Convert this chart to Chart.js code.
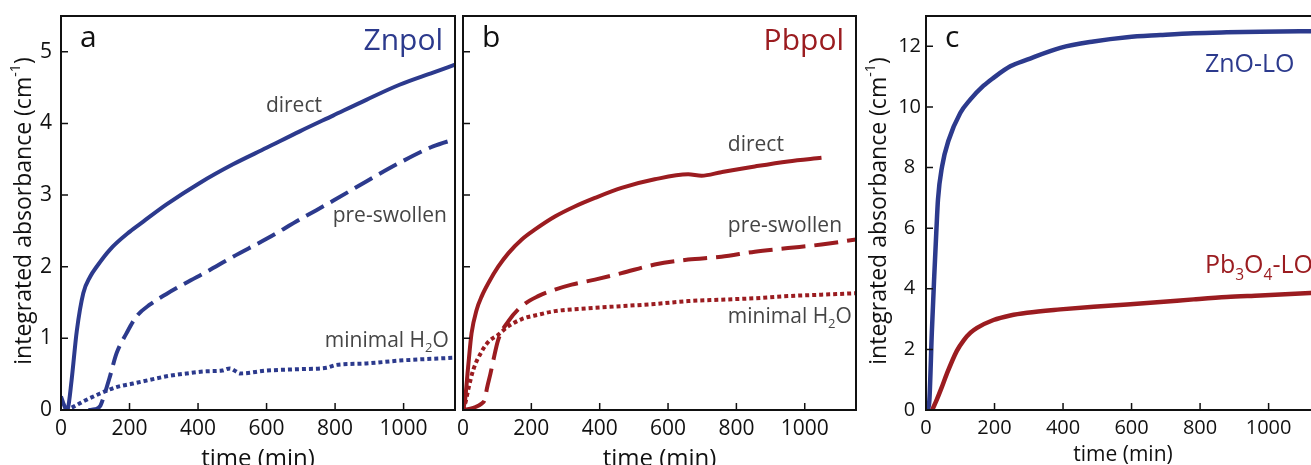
<!DOCTYPE html>
<html>
<head>
<meta charset="utf-8">
<script src="https://cdn.jsdelivr.net/npm/chart.js@4.4.1/dist/chart.umd.min.js"></script>
<style>
  html, body { margin: 0; padding: 0; background: #fff; overflow: hidden; }
  body { width: 1311px; height: 465px; position: relative; }
  .panel { position: absolute; top: 0; height: 480px; }
  #pa { left: 0; width: 460px; }
  #pb { left: 456px; width: 404px; }
  #pc { left: 860px; width: 462px; }
</style>
</head>
<body>
<div class="panel" id="pa"><canvas id="chartA"></canvas></div>
<div class="panel" id="pb"><canvas id="chartB"></canvas></div>
<div class="panel" id="pc"><canvas id="chartC"></canvas></div>
<script>
const FONT = "'Open Sans', 'Noto Sans', sans-serif";
const BLUE = '#2c3a8d';
const RED = '#9b1c20';
const GREY = '#454545';

// tick labels
const timeLabels = [0, 200, 400, 600, 800, 1000];

// panel a - Znpol
const znDirectT = [0, 8, 16, 20, 31, 46, 65, 85, 104, 143, 201, 240, 308, 405, 502, 600, 697, 794, 891, 988, 1086, 1150];
const znDirectV = [0.19, 0.08, 0, 0.02, 0.42, 1.1, 1.63, 1.86, 2.0, 2.24, 2.49, 2.63, 2.87, 3.17, 3.43, 3.66, 3.89, 4.11, 4.33, 4.54, 4.71, 4.82];
const znSwollenT = [80, 100, 115, 123, 143, 162, 191, 221, 259, 308, 367, 425, 502, 600, 697, 794, 891, 988, 1086, 1150];
const znSwollenV = [0, 0.01, 0.06, 0.16, 0.47, 0.79, 1.07, 1.31, 1.47, 1.62, 1.78, 1.93, 2.14, 2.39, 2.66, 2.92, 3.19, 3.45, 3.68, 3.78];
const znMinimalT = [12, 30, 46, 65, 114, 162, 211, 259, 308, 367, 425, 470, 493, 510, 522, 600, 697, 775, 804, 891, 988, 1150];
const znMinimalV = [0, 0.03, 0.07, 0.12, 0.23, 0.32, 0.37, 0.42, 0.47, 0.51, 0.54, 0.55, 0.58, 0.54, 0.51, 0.55, 0.57, 0.59, 0.63, 0.65, 0.69, 0.73];

// panel b - Pbpol
const pbDirectT = [0, 6, 15, 25, 40, 55, 74, 103, 133, 172, 211, 269, 327, 386, 464, 561, 659, 698, 756, 854, 951, 1049];
const pbDirectV = [0, 0.14, 0.6, 1.07, 1.4, 1.59, 1.77, 2.0, 2.19, 2.38, 2.52, 2.70, 2.84, 2.96, 3.10, 3.22, 3.29, 3.27, 3.32, 3.40, 3.47, 3.52];
const pbSwollenT = [0, 30, 55, 64, 70, 80, 89, 103, 133, 172, 220, 269, 318, 386, 464, 561, 659, 756, 854, 951, 1049, 1150];
const pbSwollenV = [0, 0.03, 0.09, 0.15, 0.3, 0.5, 0.7, 0.98, 1.24, 1.45, 1.59, 1.68, 1.75, 1.82, 1.91, 2.03, 2.10, 2.14, 2.21, 2.26, 2.31, 2.38];
const pbMinimalT = [0, 8, 16, 30, 55, 74, 103, 133, 172, 220, 269, 366, 464, 561, 659, 756, 854, 951, 1049, 1150];
const pbMinimalV = [0, 0.12, 0.3, 0.56, 0.82, 0.95, 1.05, 1.17, 1.27, 1.33, 1.38, 1.42, 1.45, 1.48, 1.52, 1.54, 1.56, 1.59, 1.61, 1.63];

// panel c - LO references
const znoT = [5, 10, 17, 24, 30, 35, 47, 66, 100, 129, 168, 197, 246, 295, 392, 489, 587, 684, 781, 878, 976, 1150];
const znoV = [0, 0.35, 2.55, 4.4, 5.85, 6.95, 8.04, 8.9, 9.8, 10.24, 10.7, 10.96, 11.34, 11.56, 11.95, 12.16, 12.3, 12.37, 12.43, 12.46, 12.48, 12.5];
const pboT = [18, 30, 45, 61, 90, 110, 130, 149, 197, 246, 295, 392, 489, 587, 684, 781, 878, 976, 1150];
const pboV = [0, 0.3, 0.72, 1.2, 1.95, 2.3, 2.55, 2.71, 2.97, 3.12, 3.21, 3.32, 3.41, 3.48, 3.56, 3.65, 3.73, 3.78, 3.88];

const zip = (t, v) => t.map((x, i) => ({ x: x, y: v[i] }));

function series(t, v, color, dash, width) {
  return {
    data: zip(t, v),
    borderColor: color,
    borderWidth: width || 4,
    borderDash: dash || [],
    pointRadius: 0,
    cubicInterpolationMode: 'monotone',
    fill: false
  };
}

// draw text made of pieces, some of them subscript / superscript
function richText(ctx, parts, x, y, size, align) {
  const widths = parts.map(p => {
    ctx.font = (p.sub || p.sup ? size * 0.62 : size) + 'px ' + FONT;
    return ctx.measureText(p.t).width;
  });
  const total = widths.reduce((a, b) => a + b, 0);
  let cx = x;
  if (align === 'center') cx = x - total / 2;
  if (align === 'right') cx = x - total;
  parts.forEach((p, i) => {
    ctx.font = (p.sub || p.sup ? size * 0.62 : size) + 'px ' + FONT;
    let dy = 0;
    if (p.sub) dy = size * 0.28;
    if (p.sup) dy = -size * 0.36;
    ctx.fillText(p.t, cx, y + dy);
    cx += widths[i];
  });
}

const yTitle = [{ t: 'integrated absorbance (cm' }, { t: '-1', sup: true }, { t: ')' }];

const panelDeco = {
  id: 'panelDeco',
  afterDraw(chart, args, o) {
    const { ctx, chartArea: a, scales: { x, y } } = chart;
    ctx.save();
    // inward ticks
    ctx.strokeStyle = '#111';
    ctx.lineWidth = 1.5;
    ctx.beginPath();
    x.ticks.forEach(t => {
      const px = x.getPixelForValue(t.value);
      const len = timeLabels.includes(t.value) ? 7 : 4;
      ctx.moveTo(px, a.bottom);
      ctx.lineTo(px, a.bottom - len);
    });
    y.ticks.forEach(t => {
      if (t.value % o.yStep !== 0) return;
      const py = y.getPixelForValue(t.value);
      ctx.moveTo(a.left, py);
      ctx.lineTo(a.left + 7, py);
    });
    ctx.stroke();
    // frame
    ctx.lineWidth = 2;
    ctx.strokeRect(a.left, a.top, a.right - a.left, a.bottom - a.top);

    ctx.textBaseline = 'alphabetic';
    ctx.textAlign = 'left';
    // panel letter
    ctx.fillStyle = '#111';
    ctx.font = '30px ' + FONT;
    ctx.fillText(o.letter, a.left + 19, a.top + 31);
    // panel title
    if (o.title) {
      ctx.fillStyle = o.titleColor;
      ctx.font = '30px ' + FONT;
      ctx.textAlign = 'right';
      ctx.fillText(o.title, a.right - 12, a.top + 34);
      ctx.textAlign = 'left';
    }
    // curve labels
    (o.notes || []).forEach(n => {
      ctx.fillStyle = n.color || GREY;
      richText(ctx, n.parts, x.getPixelForValue(n.x), y.getPixelForValue(n.y), n.size || 21, 'left');
    });
    // y title
    if (o.yTitleX) {
      ctx.fillStyle = '#111';
      ctx.textBaseline = 'middle';
      ctx.translate(o.yTitleX, (a.top + a.bottom) / 2 - 2);
      ctx.rotate(-Math.PI / 2);
      richText(ctx, yTitle, 0, 0, 23, 'center');
    }
    ctx.restore();
  }
};

function makeChart(id, cfg) {
  return new Chart(document.getElementById(id), {
    type: 'line',
    data: { datasets: cfg.datasets },
    options: {
      responsive: true,
      maintainAspectRatio: false,
      animation: false,
      events: [],
      layout: { padding: { top: 16, right: cfg.padRight, left: 0, bottom: 0 } },
      plugins: { legend: { display: false }, tooltip: { enabled: false }, panelDeco: cfg.deco },
      scales: {
        x: {
          type: 'linear', min: 0, max: 1150,
          grid: { display: false, drawTicks: false },
          border: { display: false },
          ticks: {
            stepSize: 50, autoSkip: false, maxRotation: 0, padding: 6,
            color: '#111', font: { family: FONT, size: cfg.tickSize },
            callback: v => timeLabels.includes(v) ? String(v) : null
          },
          title: {
            display: true, text: 'time (min)', color: '#111',
            font: { family: FONT, size: cfg.xTitleSize, lineHeight: 1.2 },
            padding: { top: 0, bottom: cfg.xTitlePad }
          },
          afterFit: s => { s.height = 70; s.paddingLeft = 0; s.paddingRight = 0; }
        },
        y: {
          type: 'linear', min: 0, max: cfg.yMax,
          grid: { display: false, drawTicks: false },
          border: { display: false },
          ticks: {
            display: cfg.yLabels, stepSize: cfg.yStep, padding: cfg.yPad, crossAlign: cfg.crossAlign || 'near',
            color: '#111', font: { family: FONT, size: cfg.tickSize },
            callback: v => v % cfg.yStep === 0 ? String(v) : null
          },
          afterFit: s => { s.width = cfg.yWidth; s.paddingTop = 0; s.paddingBottom = 0; }
        }
      }
    },
    plugins: [panelDeco]
  });
}

makeChart('chartA', {
  datasets: [
    series(znDirectT, znDirectV, BLUE),
    series(znSwollenT, znSwollenV, BLUE, [20, 8]),
    series(znMinimalT, znMinimalV, BLUE, [4, 3], 4)
  ],
  yMax: 5.5, yStep: 1, yWidth: 61, yPad: 9, yLabels: true, padRight: 5,
  tickSize: 21, xTitleSize: 24, xTitlePad: 6,
  deco: {
    letter: 'a', title: 'Znpol', titleColor: BLUE, yStep: 1, yTitleX: 24,
    notes: [
      { x: 598, y: 4.16, parts: [{ t: 'direct' }] },
      { x: 793, y: 2.62, parts: [{ t: 'pre-swollen' }] },
      { x: 770, y: 0.885, parts: [{ t: 'minimal H' }, { t: '2', sub: true }, { t: 'O' }] }
    ]
  }
});

makeChart('chartB', {
  datasets: [
    series(pbDirectT, pbDirectV, RED),
    series(pbSwollenT, pbSwollenV, RED, [24, 9]),
    series(pbMinimalT, pbMinimalV, RED, [4, 3], 4)
  ],
  yMax: 5.5, yStep: 1, yWidth: 7, yPad: 0, yLabels: false, padRight: 4,
  tickSize: 21, xTitleSize: 24, xTitlePad: 6,
  deco: {
    letter: 'b', title: 'Pbpol', titleColor: RED, yStep: 1,
    notes: [
      { x: 775, y: 3.61, parts: [{ t: 'direct' }] },
      { x: 775, y: 2.49, parts: [{ t: 'pre-swollen' }] },
      { x: 775, y: 1.22, parts: [{ t: 'minimal H' }, { t: '2', sub: true }, { t: 'O' }] }
    ]
  }
});

makeChart('chartC', {
  datasets: [
    series(znoT, znoV, BLUE, [], 4.5),
    series(pboT, pboV, RED, [], 4.5)
  ],
  yMax: 13, yStep: 2, yWidth: 66, yPad: 5, yLabels: true, crossAlign: 'center', padRight: 2,
  tickSize: 20, xTitleSize: 21, xTitlePad: 12,
  deco: {
    letter: 'c', yStep: 2, yTitleX: 19,
    notes: [
      { x: 814, y: 11.16, parts: [{ t: 'ZnO-LO' }], color: BLUE, size: 25 },
      { x: 814, y: 4.51, parts: [{ t: 'Pb' }, { t: '3', sub: true }, { t: 'O' }, { t: '4', sub: true }, { t: '-LO' }], color: RED, size: 25 }
    ]
  }
});
</script>
</body>
</html>
